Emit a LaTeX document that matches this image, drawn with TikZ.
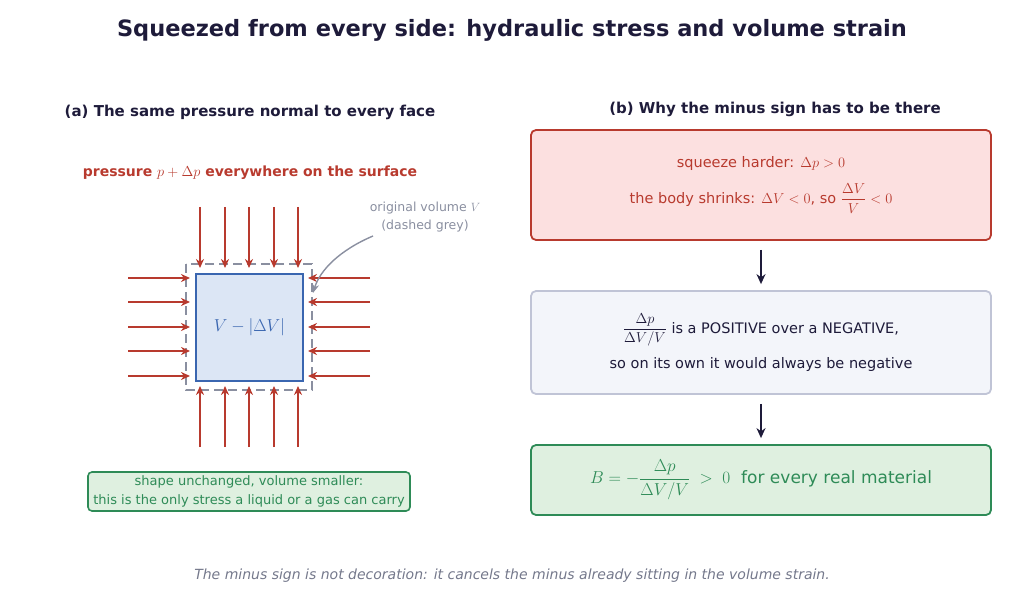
\documentclass[tikz,border=0pt]{standalone}
\usepackage{amsmath}
\usepackage{fontspec}
\setmainfont{DejaVu Sans}
\usetikzlibrary{arrows.meta,positioning}
\definecolor{navy}{HTML}{1E1B3A}
\definecolor{presred}{HTML}{B83A2E}
\definecolor{boxblue}{HTML}{3A66B0}
\definecolor{fillblue}{HTML}{DCE6F5}
\definecolor{greyv}{HTML}{8A8FA0}
\definecolor{okgreen}{HTML}{2E8B57}
\definecolor{fillgreen}{HTML}{DFF0E0}
\definecolor{fillred}{HTML}{FCE0E0}
\definecolor{fillgrey}{HTML}{F3F5FA}
\definecolor{bordgrey}{HTML}{C0C4D6}
\tikzset{
    heading/.style={font=\bfseries\fontsize{15}{18}\selectfont,text=navy},
    pushy/.style={-{Stealth[length=9pt,width=8pt]},presred,line width=1.8pt},
    panel/.style={draw,rounded corners=5pt,line width=1.8pt,minimum width=460pt,align=center},
    flowarrow/.style={-{Stealth[length=10pt,width=9pt]},navy,line width=2pt}
}
\begin{document}
\begin{tikzpicture}[x=1pt,y=-1pt]
\useasboundingbox (0,0) rectangle (1024,601);

\node (title) at (512,30) [font=\bfseries\fontsize{22.5}{26}\selectfont,text=navy] {Squeezed from every side: hydraulic stress and volume strain};

%% left panel
\node (headA) at (250,112) [heading] {(a) The same pressure normal to every face};
\node (pressure) at (250,173) [font=\bfseries\fontsize{14}{17}\selectfont,text=presred] {pressure $p+\Delta p$ everywhere on the surface};

\draw [greyv,line width=2pt,dash pattern=on 9pt off 5pt] (186,264) rectangle (312,390);
\node (cube) at (249.5,327.5) [draw=boxblue,fill=fillblue,line width=2.5pt,minimum size=107pt,
    font=\fontsize{16}{19}\selectfont,text=boxblue] {$V-|\Delta V|$};

\foreach \p in {200,225,249,274,298}
{
    \draw [pushy] (\p,207) -- (\p,268);
    \draw [pushy] (\p,447) -- (\p,386);
}
\foreach \p in {278,302,327,351,376}
{
    \draw [pushy] (128,\p) -- (190,\p);
    \draw [pushy] (370,\p) -- (308,\p);
}

\node (origvol) at (425,217) [align=center,text=greyv,font=\fontsize{12.5}{18}\selectfont] {original volume $V$\\(dashed grey)};
\coordinate (curvestart) at (373,236);
\coordinate (dashedge) at (313,293);
\draw [-{Stealth[length=9pt,width=7pt]},greyv,line width=1.4pt] (curvestart) .. controls (340,250) and (320,270) .. (dashedge);

\node (shape) at (249,491.5) [draw=okgreen,fill=fillgreen,rounded corners=4pt,line width=1.6pt,minimum width=322pt,minimum height=39pt,
    align=center,text=okgreen,font=\fontsize{13}{19}\selectfont] {shape unchanged, volume smaller:\\this is the only stress a liquid or a gas can carry};

%% right panel
\node (headB) at (775,109) [heading] {(b) Why the minus sign has to be there};

\node (harder) at (761,185) [panel,draw=presred,fill=fillred,minimum height=110pt,text=presred,font=\fontsize{14.5}{18}\selectfont]
    {squeeze harder: $\Delta p>0$\\[12pt] the body shrinks: $\Delta V<0$, so $\dfrac{\Delta V}{V}<0$};
\node (ratio) at (761,342.5) [panel,draw=bordgrey,fill=fillgrey,minimum height=103pt,text=navy,font=\fontsize{14.5}{18}\selectfont]
    {$\dfrac{\Delta p}{\Delta V/V}$ is a POSITIVE over a NEGATIVE,\\[10pt] so on its own it would always be negative};
\node (bulk) at (761,480) [panel,draw=okgreen,fill=fillgreen,minimum height=70pt,text=okgreen,font=\fontsize{17}{20}\selectfont]
    {$B=-\dfrac{\Delta p}{\Delta V/V}\;>\;0$\ \ for every real material};

\draw [flowarrow] ([yshift=-9pt]harder.south) -- ([yshift=6pt]ratio.north);
\draw [flowarrow] ([yshift=-9pt]ratio.south) -- ([yshift=6pt]bulk.north);

\node (footer) at (512,576) [font=\itshape\fontsize{14}{17}\selectfont,text=greyv!80!navy] {The minus sign is not decoration: it cancels the minus already sitting in the volume strain.};

\end{tikzpicture}
\end{document}
